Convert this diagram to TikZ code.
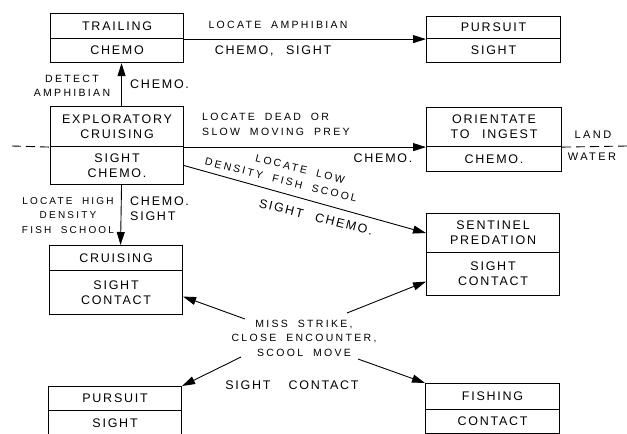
\documentclass[tikz,border=0pt]{standalone}
\usepackage{fontspec}
\setmainfont{Liberation Sans}
\newfontfamily\bxf[LetterSpace=14,WordSpace=2.4]{Liberation Sans}
\newfontfamily\lbf[LetterSpace=22,WordSpace=1.9]{Liberation Sans}
\usetikzlibrary{arrows.meta}
\begin{document}
\begin{tikzpicture}[x=1pt,y=-1pt,
  part/.style={draw, line width=1.1pt, anchor=north west, inner sep=0pt, align=center,
    font=\bxf\fontsize{12.5}{15}\selectfont},
  arr/.style={line width=0.9pt, -{Triangle[length=13pt,width=8pt]}},
  big/.style={font=\bxf\fontsize{12.5}{15}\selectfont, inner sep=0pt, align=center},
  small/.style={font=\lbf\fontsize{10.5}{14.5}\selectfont, inner sep=0pt, align=center},
  dsh/.style={line width=0.9pt, dash pattern=on 9pt off 5pt},
]
\useasboundingbox (0,0) rectangle (627,434);
% boxes
\node[part, minimum width=133pt, minimum height=25pt] (trailT) at (50,13) {TRAILING};
\node[part, minimum width=133pt, minimum height=24pt] (trailB) at (50,38) {CHEMO};
\node[part, minimum width=134pt, minimum height=22pt] (pursT) at (426,16) {PURSUIT};
\node[part, minimum width=134pt, minimum height=24pt] (pursB) at (426,38) {SIGHT};
\node[part, minimum width=133pt, minimum height=40pt] (exploT) at (50,106) {EXPLORATORY\\CRUISING};
\node[part, minimum width=133pt, minimum height=38pt] (exploB) at (50,146) {SIGHT\\CHEMO.};
\node[part, minimum width=135pt, minimum height=39pt] (orientT) at (426,107) {ORIENTATE\\TO INGEST};
\node[part, minimum width=135pt, minimum height=25pt] (orientB) at (426,146) {CHEMO.};
\node[part, minimum width=133pt, minimum height=25pt] (cruiseT) at (49,245) {CRUISING};
\node[part, minimum width=133pt, minimum height=44pt] (cruiseB) at (49,270) {SIGHT\\CONTACT};
\node[part, minimum width=133pt, minimum height=39pt] (sentT) at (426,213) {SENTINEL\\PREDATION};
\node[part, minimum width=133pt, minimum height=43pt] (sentB) at (426,252) {SIGHT\\CONTACT};
\node[part, minimum width=133pt, minimum height=24pt] (purs2T) at (48,386) {PURSUIT};
\node[part, minimum width=133pt, minimum height=26pt] (purs2B) at (48,410) {SIGHT};
\node[part, minimum width=134pt, minimum height=26pt] (fishT) at (425,383) {FISHING};
\node[part, minimum width=134pt, minimum height=24pt] (fishB) at (425,409) {CONTACT};
% land / water line
\coordinate (dl) at (12,146);
\coordinate (dr) at (627,146);
\draw[dsh] (dl) -- (exploT.south west);
\draw[dsh] (orientT.south east) -- (dr);
\node[small, font=\lbf\fontsize{11}{14}\selectfont] (land) at (593,135) {LAND};
\node[small, font=\lbf\fontsize{11}{14}\selectfont] (water) at (592,157) {WATER};
% arrows
\draw[arr] (trailT.south east) -- (pursT.south west |- trailT.south east);
\draw[arr] ([xshift=4.5pt]exploT.north) -- ([xshift=4.5pt]trailB.south);
\draw[arr] (exploT.south east) -- (orientT.south west);
\draw[arr] (exploB.east) -- (sentT.west);
\draw[arr] ([xshift=4.5pt]exploB.south) -- ([xshift=4.5pt]cruiseT.north);
% central label
\node[small] (miss) at (304,338) {MISS STRIKE,\\CLOSE ENCOUNTER,\\SCOOL MOVE};
\coordinate (m1) at (245,319);
\coordinate (m2) at (347,313);
\coordinate (m3) at (241,357);
\coordinate (m4) at (358,359);
\draw[arr] (m1) -- ([yshift=-4pt]cruiseB.east);
\draw[arr] (m2) -- ([yshift=-7.5pt]sentB.west);
\draw[arr] (m3) -- (purs2T.north east);
\draw[arr] (m4) -- (fishT.north west);
% labels
\node[small] (la) at (278,25) {LOCATE AMPHIBIAN};
\node[big] (cs) at (273,51) {CHEMO, SIGHT};
\node[small] (da) at (72,86) {DETECT\\AMPHIBIAN};
\node[big, anchor=west] (c1) at (130,84) {CHEMO.};
\node[small, align=left, anchor=west] (ld) at (202,124.5) {LOCATE DEAD OR\\SLOW MOVING PREY};
\node[big] (c2) at (383,158) {CHEMO.};
\node[small, rotate=-14] (ll) at (300,169) {LOCATE LOW};
\node[small, rotate=-14] (df) at (281,180) {DENSITY FISH SCOOL};
\node[big, rotate=-14] (sc) at (316,217) {SIGHT CHEMO.};
\node[small, font=\lbf\fontsize{10}{14.5}\selectfont] (lh) at (68,215.5) {LOCATE HIGH\\DENSITY\\FISH SCHOOL};
\node[big, align=left, anchor=west] (cs2) at (130,209) {CHEMO.\\SIGHT};
\node[big] (sct) at (292,385) {SIGHT\hspace{18pt}CONTACT};
\end{tikzpicture}
\end{document}
